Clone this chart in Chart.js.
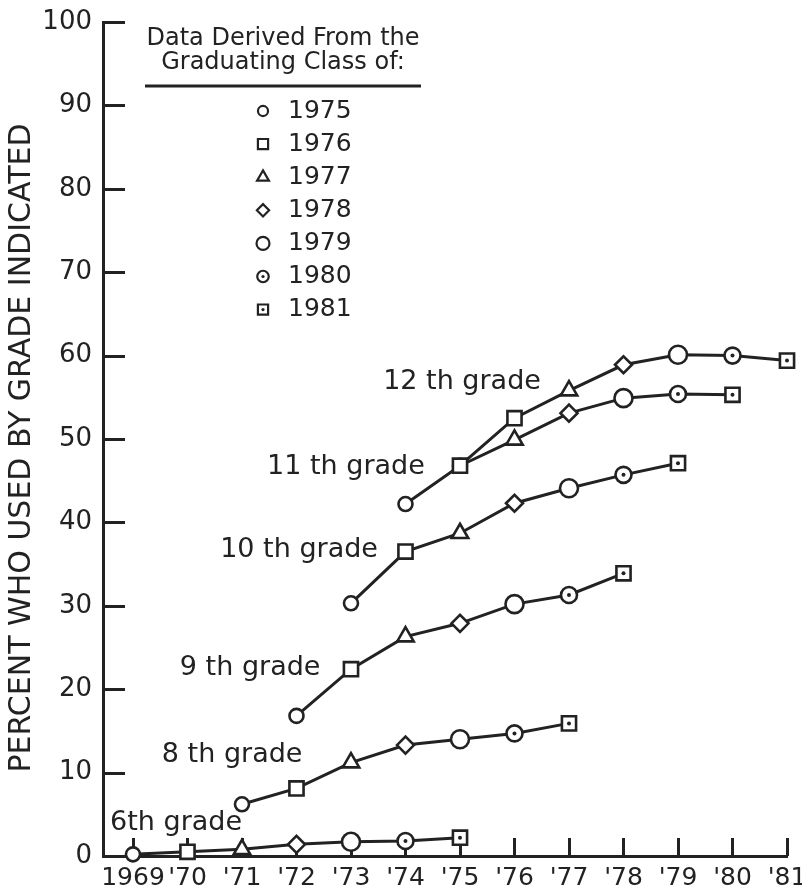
<!DOCTYPE html>
<html>
<head>
<meta charset="utf-8">
<script src="https://cdn.jsdelivr.net/npm/chart.js@4/dist/chart.umd.min.js"></script>
<style>
  html, body { margin: 0; padding: 0; background: #fff; }
</style>
</head>
<body>
<canvas id="grade-usage-chart" width="802" height="893"></canvas>
<script>
/* values */
let tickYears = [1969, 1970, 1971, 1972, 1973, 1974, 1975, 1976, 1977, 1978, 1979, 1980, 1981];
let yTicks = [0, 10, 20, 30, 40, 50, 60, 70, 80, 90, 100];
let classYears = [1975, 1976, 1977, 1978, 1979, 1980, 1981];

let gradeNumbers = [6, 8, 9, 10, 11, 12];
let gradeNames = ["6th grade", "8 th grade", "9 th grade", "10 th grade", "11 th grade", "12 th grade"];
let startYears = [1969, 1971, 1972, 1973, 1974, 1975];

let grade6 = [0.2, 0.5, 0.8, 1.4, 1.7, 1.8, 2.2];
let grade8 = [6.2, 8.1, 11.2, 13.3, 14.0, 14.7, 15.9];
let grade9 = [16.8, 22.4, 26.3, 27.9, 30.2, 31.3, 33.9];
let grade10 = [30.3, 36.5, 38.7, 42.3, 44.1, 45.7, 47.1];
let grade11 = [42.2, 46.8, 49.9, 53.1, 54.9, 55.4, 55.3];
let grade12 = [46.8, 52.5, 55.8, 58.9, 60.1, 60.0, 59.4];
let gradeValues = [grade6, grade8, grade9, grade10, grade11, grade12];

// where each "nth grade" label sits, in chart units (year, percent)
let labelYears = [1968.58, 1969.53, 1969.86, 1970.6, 1971.46, 1973.59];
let labelPercents = [4.0, 12.1, 22.5, 36.7, 46.6, 56.8];

/* marker look for each graduating class */
let classMarkers = ["circle", "rect", "triangle", "rectRot", "circle", "circle", "rect"];
let classRadius = [7, 10, 9.5, 8.5, 9, 8, 10];
let classDotted = [false, false, false, false, false, true, true];

let ink = "#222";
let fontFamily = "'DejaVu Sans', sans-serif";

// graduating class of a point = year + years left before 12th grade
function classIndex(datasetIndex, dataIndex) {
  let year = startYears[datasetIndex] + dataIndex;
  let gradClass = year + (12 - gradeNumbers[datasetIndex]);
  return classYears.indexOf(gradClass);
}

// build the datasets from the arrays above
let datasets = gradeValues.map(function (values, d) {
  return {
    label: gradeNames[d],
    data: values.map(function (v, i) {
      return { x: startYears[d] + i, y: v };
    }),
    clip: false,
    borderColor: ink,
    borderWidth: 3,
    tension: 0,
    pointBackgroundColor: "#fff",
    pointBorderColor: ink,
    pointBorderWidth: 2.6,
    pointStyle: function (ctx) {
      return classMarkers[classIndex(ctx.datasetIndex, ctx.dataIndex)];
    },
    pointRadius: function (ctx) {
      return classRadius[classIndex(ctx.datasetIndex, ctx.dataIndex)];
    },
  };
});

// ticks drawn inward, like the original
let innerTicks = {
  id: "innerTicks",
  beforeDatasetsDraw(chart) {
    let c = chart.ctx;
    let x = chart.scales.x;
    let y = chart.scales.y;
    let area = chart.chartArea;
    c.save();
    c.strokeStyle = ink;
    c.lineWidth = 3;
    c.beginPath();
    yTicks.forEach(function (v) {
      if (v === 0) return;
      let py = Math.round(y.getPixelForValue(v)) + 0.5;
      c.moveTo(area.left, py);
      c.lineTo(area.left + 22, py);
    });
    tickYears.forEach(function (yr) {
      let px = Math.round(x.getPixelForValue(yr)) + 0.5;
      c.moveTo(px, area.bottom);
      c.lineTo(px, area.bottom - 18);
    });
    c.stroke();
    c.restore();
  },
};

// dot inside the 1980 / 1981 markers
let markerDots = {
  id: "markerDots",
  afterDatasetsDraw(chart) {
    let c = chart.ctx;
    c.save();
    c.fillStyle = ink;
    chart.data.datasets.forEach(function (ds, d) {
      let meta = chart.getDatasetMeta(d);
      meta.data.forEach(function (pt, i) {
        if (classDotted[classIndex(d, i)]) {
          c.beginPath();
          c.arc(pt.x, pt.y, 2, 0, Math.PI * 2);
          c.fill();
        }
      });
    });
    c.restore();
  },
};

// grade labels, axis title and the class key
let annotations = {
  id: "annotations",
  afterDraw(chart) {
    let c = chart.ctx;
    let x = chart.scales.x;
    let y = chart.scales.y;
    c.save();
    c.fillStyle = ink;

    // grade labels
    c.font = "27px " + fontFamily;
    c.textAlign = "left";
    c.textBaseline = "middle";
    gradeNames.forEach(function (name, i) {
      c.fillText(name, x.getPixelForValue(labelYears[i]), y.getPixelForValue(labelPercents[i]));
    });

    // y axis title
    c.save();
    c.translate(22, 448);
    c.rotate(-Math.PI / 2);
    c.font = "30px " + fontFamily;
    c.textAlign = "center";
    c.fillText("PERCENT WHO USED BY GRADE INDICATED", 0, 0);
    c.restore();

    // key heading
    c.font = "24px " + fontFamily;
    c.textAlign = "center";
    c.fillText("Data Derived From the", 283, 39);
    c.fillText("Graduating Class of:", 283, 63);
    c.strokeStyle = ink;
    c.lineWidth = 3;
    c.beginPath();
    c.moveTo(145, 86);
    c.lineTo(421, 86);
    c.stroke();

    // key rows
    c.font = "25px " + fontFamily;
    c.textAlign = "left";
    classYears.forEach(function (yr, i) {
      let rowY = 111 + i * 33.1;
      c.fillStyle = "#fff";
      c.strokeStyle = ink;
      c.lineWidth = 2.2;
      Chart.helpers.drawPoint(c, {
        pointStyle: classMarkers[i],
        radius: classRadius[i] * 0.72,
        borderWidth: 2.2,
        rotation: 0,
      }, 263, rowY);
      if (classDotted[i]) {
        c.fillStyle = ink;
        c.beginPath();
        c.arc(263, rowY, 1.6, 0, Math.PI * 2);
        c.fill();
      }
      c.fillStyle = ink;
      c.fillText(String(yr), 288, rowY);
    });
    c.restore();
  },
};

let canvas = document.querySelector("#grade-usage-chart");
let usageChart = new Chart(canvas.getContext("2d"), {
  type: "line",
  data: { datasets: datasets },
  options: {
    responsive: false,
    animation: false,
    layout: { padding: { top: 22, right: 15, left: 0, bottom: 0 } },
    plugins: {
      legend: { display: false },
      tooltip: { enabled: false },
    },
    scales: {
      x: {
        type: "linear",
        min: 1968.45,
        max: 1981,
        afterBuildTicks: function (scale) {
          scale.ticks = tickYears.map(function (v) { return { value: v }; });
        },
        grid: { display: false, drawTicks: false },
        border: { display: true, width: 3, color: ink },
        ticks: {
          padding: 7,
          color: ink,
          autoSkip: false,
          maxRotation: 0,
          font: { family: fontFamily, size: 25 },
          callback: function (v) {
            return v === 1969 ? "1969" : "'" + String(v).slice(2);
          },
        },
        afterFit: function (scale) {
          scale.height = 37;
          scale.paddingLeft = 0;
          scale.paddingRight = 0;
        },
      },
      y: {
        min: 0,
        max: 100,
        afterBuildTicks: function (scale) {
          scale.ticks = yTicks.map(function (v) { return { value: v }; });
        },
        grid: { display: false, drawTicks: false },
        border: { display: true, width: 3, color: ink },
        ticks: {
          padding: 11,
          color: ink,
          font: { family: fontFamily, size: 26 },
        },
        afterFit: function (scale) {
          scale.width = 103;
          scale.paddingTop = 0;
          scale.paddingBottom = 0;
        },
      },
    },
  },
  plugins: [innerTicks, markerDots, annotations],
});
</script>
</body>
</html>
